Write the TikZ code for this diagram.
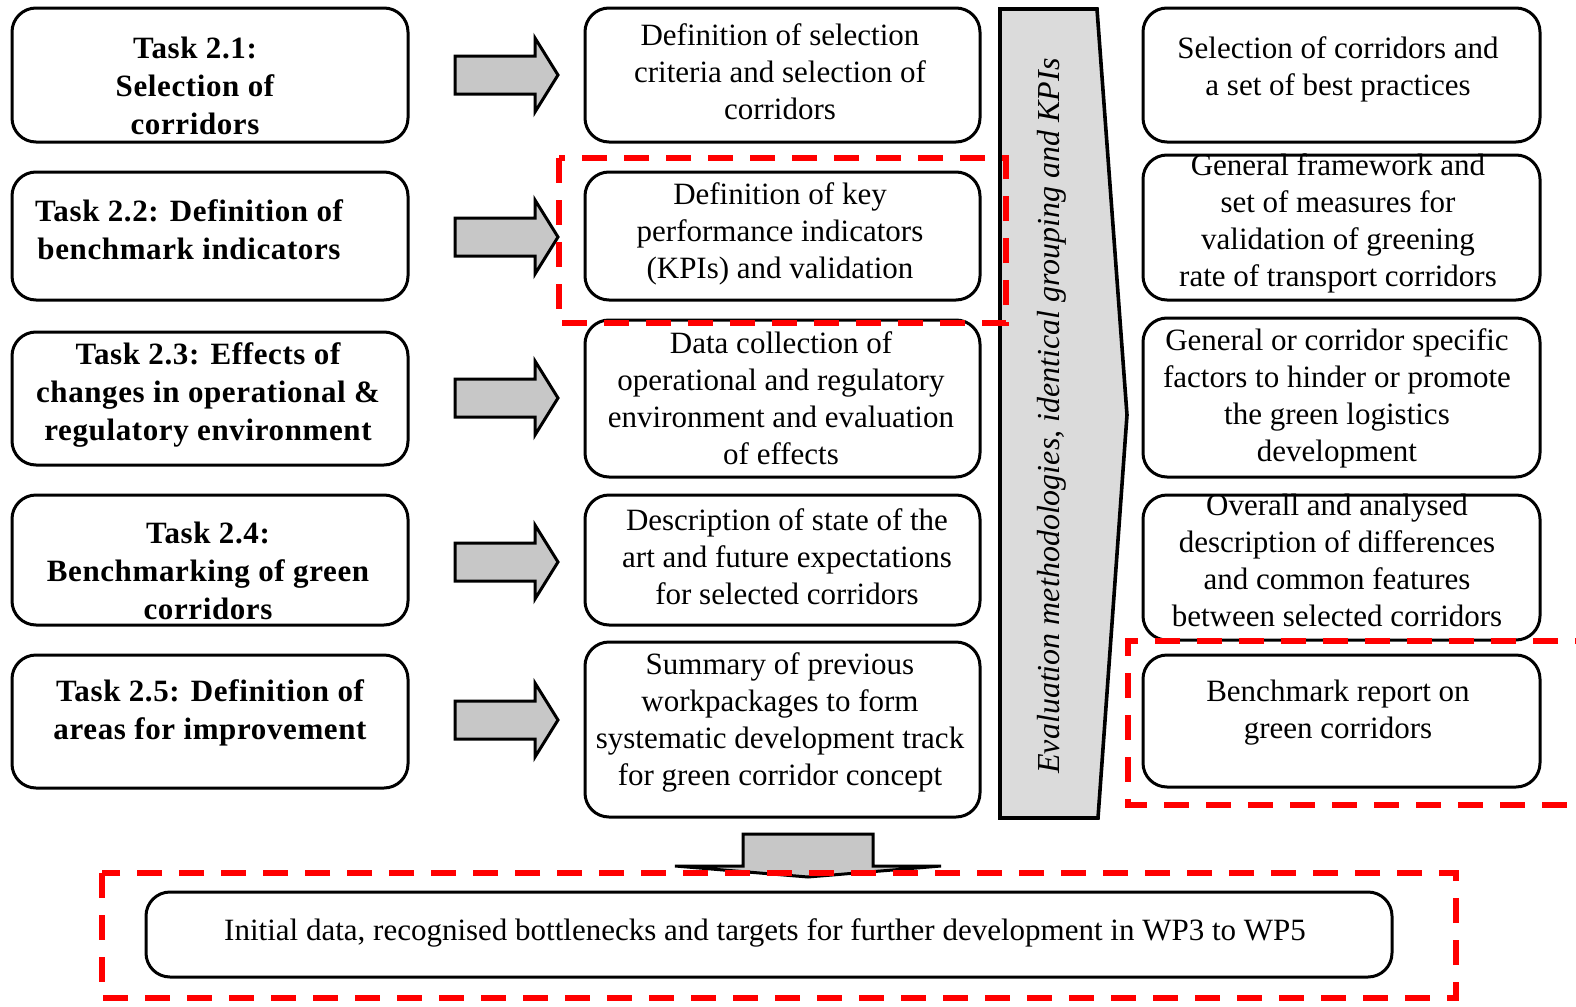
\documentclass[tikz,border=0pt]{standalone}
\usepackage{fontspec}
\setmainfont{Liberation Serif}
\begin{document}
\begin{tikzpicture}[x=0.5pt,y=-0.5pt,
  box/.style={draw, line width=1.5pt, rounded corners=12pt, fill=white, inner sep=0pt},
  txt/.style={align=center, font=\fontsize{15.5}{18.5}\selectfont, inner sep=0pt},
  btxt/.style={align=center, font=\fontsize{15.5}{19}\selectfont\bfseries\addfontfeature{LetterSpace=2}, inner sep=0pt},
  barrow/.style={draw, line width=1.5pt, fill=black!22, line join=miter},
  bigarrow/.style={draw, line width=1.8pt, fill=black!14, line join=miter},
  reddash/.style={draw=red, line width=2.6pt, dash pattern=on 12.5pt off 8.5pt}
]
\useasboundingbox (0,0) rectangle (1576,1007);

% left column
\node[box, minimum width=198pt, minimum height=67pt] (L1) at (210,75) {};
\node[btxt] (L1t) at (195,86) {Task 2.1:\\Selection of\\corridors};
\node[box, minimum width=198pt, minimum height=64pt] (L2) at (210,236) {};
\node[btxt] (L2t) at (189,230) {Task 2.2: Definition of\\benchmark indicators};
\node[box, minimum width=198pt, minimum height=66.5pt] (L3) at (210,398.5) {};
\node[btxt] (L3t) at (208,395) {Task 2.3: Effects of\\changes in operational \&\\regulatory environment};
\node[box, minimum width=198pt, minimum height=65pt] (L4) at (210,560) {};
\node[btxt] (L4t) at (208,571) {Task 2.4:\\Benchmarking of green\\corridors};
\node[box, minimum width=198pt, minimum height=66.5pt] (L5) at (210,721.5) {};
\node[btxt] (L5t) at (210,713) {Task 2.5: Definition of\\areas for improvement};

% block arrows
\foreach \yy in {75,237,398,562,720}{
  \draw[barrow] (455,\yy-19) -- (535,\yy-19) -- (535,\yy-37) -- (558,\yy) -- (535,\yy+37) -- (535,\yy+19) -- (455,\yy+19) -- cycle;
}

% middle column
\node[box, minimum width=197.5pt, minimum height=67pt] (M1) at (782.5,75) {};
\node[txt] (M1t) at (780,72) {Definition of selection\\criteria and selection of\\corridors};
\node[box, minimum width=197.5pt, minimum height=64pt] (M2) at (782.5,236) {};
\node[txt] (M2t) at (780,234) {Definition of key\\performance indicators\\(KPIs) and validation};
\node[box, minimum width=197.5pt, minimum height=78.5pt] (M3) at (782.5,398.5) {};
\node[txt] (M3t) at (781,398) {Data collection of\\operational and regulatory\\environment and evaluation\\of effects};
\node[box, minimum width=197.5pt, minimum height=65pt] (M4) at (782.5,560) {};
\node[txt] (M4t) at (787,557) {Description of state of the\\art and future expectations\\for selected corridors};
\node[box, minimum width=197.5pt, minimum height=87.5pt] (M5) at (782.5,729.5) {};
\node[txt] (M5t) at (780,722) {Summary of previous\\workpackages to form\\systematic development track\\for green corridor concept};

% big arrow
\draw[bigarrow] (1000,9) -- (1097,9) -- (1127,415) -- (1098,818) -- (1000,818) -- cycle;
\node[txt, font=\fontsize{16}{18.5}\selectfont\itshape, rotate=90] (ev) at (1052,416) {Evaluation methodologies, identical grouping and KPIs};

% right column
\node[box, minimum width=198.5pt, minimum height=67pt] (R1) at (1341.5,75) {};
\node[txt] (R1t) at (1338,69) {Selection of corridors and\\a set of best practices};
\node[box, minimum width=198.5pt, minimum height=72.5pt] (R2) at (1341.5,227.5) {};
\node[txt] (R2t) at (1338,223) {General framework and\\set of measures for\\validation of greening\\rate of transport corridors};
\node[box, minimum width=198.5pt, minimum height=79.5pt] (R3) at (1341.5,397.5) {};
\node[txt] (R3t) at (1337,398) {General or corridor specific\\factors to hinder or promote\\the green logistics\\development};
\node[box, minimum width=198.5pt, minimum height=72.5pt] (R4) at (1341.5,567.5) {};
\node[txt] (R4t) at (1337,560) {Overall and analysed\\description of differences\\and common features\\between selected corridors};
\node[box, minimum width=198.5pt, minimum height=66pt] (R5) at (1341.5,721) {};
\node[txt] (R5t) at (1338,713) {Benchmark report on\\green corridors};

% down arrow
\draw[barrow] (743,834) -- (873,834) -- (873,866) -- (941,866) -- (808,877) -- (675,866) -- (743,866) -- cycle;

% bottom box
\node[box, minimum width=623pt, minimum height=42.5pt] (B) at (769,934.5) {};
\node[txt] (Bt) at (765,933) {Initial data, recognised bottlenecks and targets for further development in WP3 to WP5};

% red dashed frames
\draw[reddash] (559,158) rectangle (1006,323);
\draw[reddash] (1600,641) -- (1128,641) -- (1128,805) -- (1600,805);
\draw[reddash] (102,873) rectangle (1456,998);
\end{tikzpicture}
\end{document}
